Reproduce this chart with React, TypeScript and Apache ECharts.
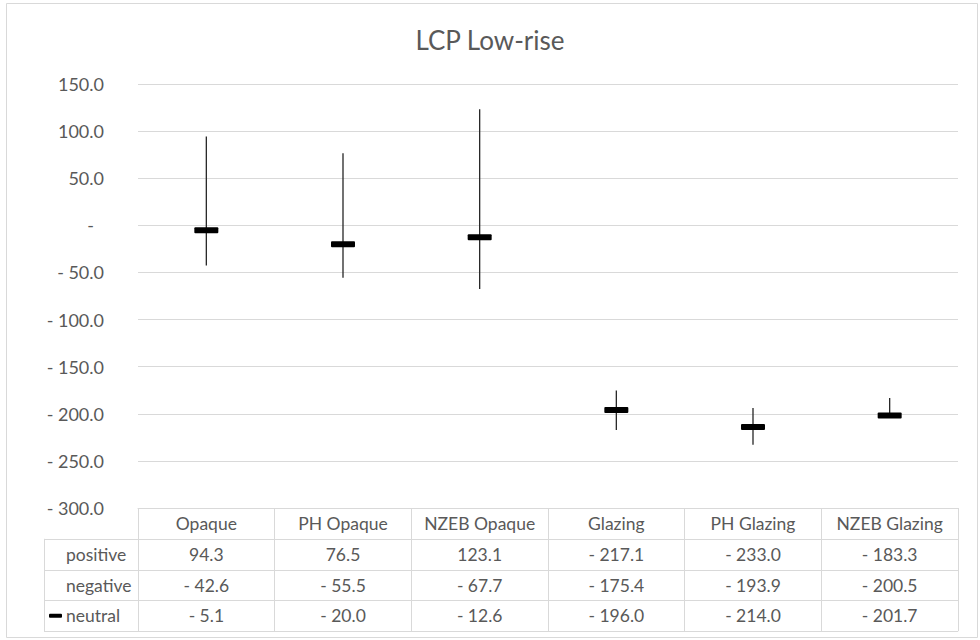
import React, { useEffect, useRef } from "react";
import * as echarts from "echarts";

const categories = ["Opaque", "PH Opaque", "NZEB Opaque", "Glazing", "PH Glazing", "NZEB Glazing"];
const positive = [94.3, 76.5, 123.1, -217.1, -233.0, -183.3];
const negative = [-42.6, -55.5, -67.7, -175.4, -193.9, -200.5];
const neutral = [-5.1, -20.0, -12.6, -196.0, -214.0, -201.7];
const rowNames = ["positive", "negative", "neutral"];
const title = "LCP Low-rise";

const FONT = "Lato, 'Open Sans', sans-serif";
const TXT = "#595959";
const LINE = "#d9d9d9";
const FS = 17.5;

const fmt = (v: number) =>
  v === 0 ? "-" : v < 0 ? "- " + Math.abs(v).toFixed(1) : v.toFixed(1);

export default function App() {
  const ref = useRef<HTMLDivElement>(null);
  useEffect(() => {
    if (!ref.current) return;
    const chart = echarts.init(ref.current, null, { renderer: "svg" });
    const data = categories.map((_, i) => [i, positive[i], negative[i], neutral[i]]);
    const gridLeft = 138;
    const gridRight = 22;
    const gridTop = 84;
    const gridBottom = 132;
    const rowH = 30.8;
    chart.setOption({
      animation: false,
      backgroundColor: "#fff",
      title: {
        text: title,
        left: "center",
        top: 22,
        textStyle: { color: TXT, fontFamily: FONT, fontSize: 26, fontWeight: "normal" },
      },
      grid: { left: gridLeft, right: gridRight, top: gridTop, bottom: gridBottom, containLabel: false },
      xAxis: {
        type: "category",
        data: categories,
        boundaryGap: true,
        axisLine: { show: true, onZero: false, lineStyle: { color: LINE, width: 1 } },
        axisTick: { show: true, length: rowH * 4, interval: 0, lineStyle: { color: LINE, width: 1 } },
        axisLabel: { color: TXT, fontFamily: FONT, fontSize: FS, margin: 6, interval: 0 },
      },
      yAxis: {
        type: "value",
        min: -300,
        max: 150,
        interval: 50,
        axisLine: { show: false },
        axisTick: { show: false },
        splitLine: { lineStyle: { color: LINE, width: 1 } },
        axisLabel: {
          color: TXT,
          fontFamily: FONT,
          fontSize: 18,
          margin: 34,
          formatter: (v: number) => (v === 0 ? "{z|-}" : fmt(v)),
          rich: { z: { color: TXT, fontFamily: FONT, fontSize: 18, padding: [0, 10, 0, 0] } },
        },
      },
      series: [
        {
          type: "custom",
          name: "neutral",
          data,
          encode: { x: 0, y: [1, 2, 3] },
          renderItem: (params: any, api: any) => {
            const i = api.value(0);
            const p = api.coord([i, api.value(1)]);
            const n = api.coord([i, api.value(2)]);
            const m = api.coord([i, api.value(3)]);
            return {
              type: "group",
              children: [
                {
                  type: "line",
                  shape: { x1: p[0], y1: p[1], x2: n[0], y2: n[1] },
                  style: { stroke: "#262626", lineWidth: 1.3 },
                },
                {
                  type: "rect",
                  shape: { x: m[0] - 12, y: m[1] - 3, width: 24, height: 6, r: 1 },
                  style: { fill: "#000" },
                },
              ],
            };
          },
        },
      ],
    });

    const tableTop = chart.convertToPixel({ yAxisIndex: 0 }, -300) as number;
    const plotRight = 980 - gridRight;
    const tableLeft = 44;
    const cols = categories.map((_, i) => chart.convertToPixel({ xAxisIndex: 0 }, i) as number);
    const rows = [positive, negative, neutral];
    const graphic: any[] = [
      {
        type: "rect",
        shape: { x: 6.5, y: 3.5, width: 971, height: 634 },
        style: { fill: "none", stroke: LINE, lineWidth: 1 },
        z: 0,
      },
    ];
    for (let r = 1; r <= 4; r++) {
      const y = Math.round(tableTop + r * rowH) + 0.5;
      graphic.push({
        type: "line",
        shape: { x1: tableLeft, y1: y, x2: plotRight, y2: y },
        style: { stroke: LINE, lineWidth: 1 },
      });
    }
    graphic.push({
      type: "line",
      shape: { x1: tableLeft + 0.5, y1: tableTop + rowH, x2: tableLeft + 0.5, y2: Math.round(tableTop + 4 * rowH) + 0.5 },
      style: { stroke: LINE, lineWidth: 1 },
    });
    rows.forEach((vals, r) => {
      const cy = tableTop + (r + 1.5) * rowH;
      graphic.push({
        type: "text",
        x: 66,
        y: cy,
        style: { text: rowNames[r], fill: TXT, font: `${FS}px ${FONT}`, align: "left", verticalAlign: "middle" },
      });
      vals.forEach((v, i) => {
        graphic.push({
          type: "text",
          x: cols[i],
          y: cy,
          style: { text: fmt(v), fill: TXT, font: `${FS}px ${FONT}`, align: "center", verticalAlign: "middle" },
        });
      });
    });
    graphic.push({
      type: "rect",
      shape: { x: 49, y: tableTop + 3.5 * rowH - 2, width: 13, height: 4, r: 1 },
      style: { fill: "#000" },
    });
    chart.setOption({ graphic });

    return () => chart.dispose();
  }, []);
  return (
    <div
      ref={ref}
      style={{ position: "fixed", left: 0, top: 0, width: 980, height: 640, background: "#fff" }}
    />
  );
}
